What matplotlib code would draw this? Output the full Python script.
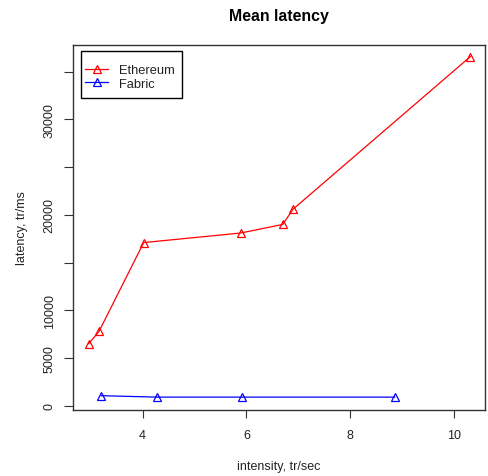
import matplotlib
matplotlib.use("Agg")
import matplotlib.pyplot as plt
from matplotlib.patches import Rectangle

eth_x = [2.96, 3.16, 4.02, 5.89, 6.70, 6.90, 10.32]
eth_y = [6500, 7800, 17100, 18100, 19000, 20600, 36600]
fab_x = [3.20, 4.27, 5.91, 8.86]
fab_y = [1050, 900, 900, 900]
x_ticks = [4, 6, 8, 10]
y_ticks = [0, 5000, 10000, 15000, 20000, 25000, 30000, 35000]
y_labels = ["0", "5000", "10000", "", "20000", "", "30000", ""]

plt.rcParams['font.family'] = ['Liberation Sans', 'DejaVu Sans']

W, H = 488, 477
fig = plt.figure(figsize=(W/100, H/100), dpi=100)
ax = fig.add_axes([73/W, 1-411/H, (485-73)/W, (411-45.7)/H])

ax.plot(eth_x, eth_y, color='#FF0000', lw=0.9, marker='^', markersize=6,
        markerfacecolor='none', markeredgecolor='#FF0000', markeredgewidth=0.9, label='Ethereum')
ax.plot(fab_x, fab_y, color='#0000FF', lw=0.9, marker='^', markersize=6,
        markerfacecolor='none', markeredgecolor='#0000FF', markeredgewidth=0.9, label='Fabric')

ax.set_xlim(2.657, 10.6)
ax.set_ylim(-450, 37840)
ax.set_xticks(x_ticks)
ax.set_xticklabels([str(t) for t in x_ticks])
ax.set_yticks(y_ticks)
ax.set_yticklabels(y_labels, rotation=90, va='center')

for s in ax.spines.values():
    s.set_color('#333333')
    s.set_linewidth(1.0)
ax.tick_params(axis='x', length=6, width=0.8, color='#333333', labelsize=9, pad=8, labelcolor='#222222')
ax.tick_params(axis='y', length=6.5, width=0.8, color='#333333', labelsize=9, pad=6, labelcolor='#222222')

# legend frame (R-style box)
ax.add_patch(Rectangle((81/W, 1-99/H), (182-81)/W, (99-52)/H, transform=fig.transFigure,
                       facecolor='white', edgecolor='black', lw=1.0, zorder=4, clip_on=False))
leg = ax.legend(loc='upper left', bbox_to_anchor=(85/W, 1-65/H), bbox_transform=fig.transFigure,
                frameon=False, fontsize=9.3,
                handlelength=1.8, borderpad=0, labelspacing=0.12, handletextpad=0.85,
                borderaxespad=0)
leg.set_zorder(5)
for t in leg.get_texts():
    t.set_color('#222222')

fig.text(279/W, 1-16/H, 'Mean latency', ha='center', va='center', fontsize=11.4, fontweight='bold')
fig.text(279/W, 1-467/H, 'intensity, tr/sec', ha='center', va='center', fontsize=9, color='#222222')
fig.text(22/W, 1-228/H, 'latency, tr/ms', ha='center', va='center', rotation=90, fontsize=9, color='#222222')

fig.savefig('out.png', dpi=100)
